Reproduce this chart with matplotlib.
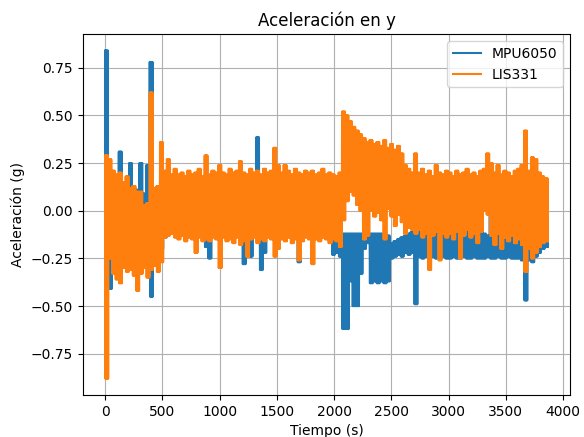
import numpy as np
import matplotlib
matplotlib.use("Agg")
import matplotlib.pyplot as plt

# Sample bins (s): each bin holds the upper and lower excursion of the signal
bin_start = np.arange(129) * 30
bin_width = 30
swings_per_bin = 5

# LIS331 (orange)
lis_hi = [
    0.29, 0.27, 0.21, 0.19, 0.20, 0.15, 0.18, 0.12, 0.13, 0.10,
    0.10, 0.03, 0.04, 0.62, 0.12, 0.13, 0.36, 0.21, 0.27, 0.19,
    0.22, 0.19, 0.20, 0.18, 0.21, 0.19, 0.20, 0.22, 0.18, 0.29,
    0.19, 0.21, 0.20, 0.24, 0.20, 0.19, 0.22, 0.20, 0.21, 0.26,
    0.20, 0.19, 0.22, 0.20, 0.21, 0.19, 0.22, 0.20, 0.21, 0.33,
    0.24, 0.20, 0.24, 0.21, 0.19, 0.22, 0.20, 0.19, 0.21, 0.20,
    0.21, 0.19, 0.20, 0.22, 0.19, 0.20, 0.19, 0.18, 0.20, 0.52,
    0.50, 0.47, 0.44, 0.42, 0.40, 0.38, 0.36, 0.37, 0.35, 0.36,
    0.34, 0.37, 0.33, 0.35, 0.32, 0.34, 0.30, 0.24, 0.22, 0.20,
    0.30, 0.20, 0.22, 0.19, 0.21, 0.18, 0.24, 0.20, 0.19, 0.21,
    0.20, 0.18, 0.21, 0.19, 0.20, 0.22, 0.19, 0.20, 0.18, 0.21,
    0.22, 0.30, 0.25, 0.20, 0.24, 0.19, 0.21, 0.20, 0.18, 0.21,
    0.22, 0.24, 0.42, 0.21, 0.28, 0.27, 0.20, 0.18, 0.17,
]
lis_lo = [
    -0.88, -0.25, -0.33, -0.36, -0.38, -0.30, -0.32, -0.31, -0.34, -0.42,
    -0.33, -0.30, -0.35, -0.31, -0.29, -0.32, -0.27, -0.14, -0.13, -0.12,
    -0.14, -0.15, -0.13, -0.16, -0.14, -0.15, -0.22, -0.14, -0.16, -0.15,
    -0.16, -0.14, -0.15, -0.30, -0.14, -0.16, -0.15, -0.17, -0.14, -0.18,
    -0.16, -0.24, -0.15, -0.14, -0.17, -0.15, -0.16, -0.14, -0.15, -0.24,
    -0.20, -0.15, -0.16, -0.14, -0.17, -0.15, -0.26, -0.16, -0.14, -0.15,
    -0.28, -0.15, -0.16, -0.14, -0.15, -0.17, -0.15, -0.16, -0.19, -0.05,
    0.05, 0.10, 0.08, 0.03, 0.00, -0.15, -0.13, 0.00, -0.03, -0.01,
    -0.05, -0.15, 0.01, -0.03, -0.08, -0.02, -0.06, -0.12, -0.09, -0.10,
    -0.12, -0.10, -0.14, -0.12, -0.31, -0.13, -0.11, -0.26, -0.12, -0.14,
    -0.12, -0.15, -0.11, -0.25, -0.13, -0.10, -0.14, -0.12, -0.17, -0.11,
    0.00, -0.02, -0.13, -0.18, -0.12, -0.20, -0.14, -0.16, -0.13, -0.17,
    -0.15, -0.18, -0.32, -0.20, -0.25, -0.22, -0.19, -0.17, -0.16,
]

# MPU6050 (blue)
mpu_hi = [
    0.84, 0.20, 0.15, 0.14, 0.31, 0.12, 0.14, 0.25, 0.12, 0.11,
    0.25, 0.09, 0.24, 0.78, 0.08, 0.10, 0.12, 0.12, 0.13, 0.12,
    0.13, 0.12, 0.14, 0.13, 0.12, 0.13, 0.14, 0.12, 0.13, 0.14,
    0.13, 0.12, 0.14, 0.13, 0.12, 0.13, 0.14, 0.12, 0.13, 0.14,
    0.13, 0.12, 0.14, 0.13, 0.385, 0.13, 0.12, 0.14, 0.13, 0.12,
    0.13, 0.12, 0.14, 0.13, 0.12, 0.13, 0.12, 0.11, 0.13, 0.12,
    0.13, 0.12, 0.11, 0.13, 0.12, 0.11, 0.12, 0.11, 0.10, -0.12,
    -0.12, -0.12, -0.12, -0.12, -0.12, -0.14, -0.13, -0.12, -0.12, -0.12,
    -0.12, -0.12, -0.13, -0.17, -0.16, -0.15, -0.14, -0.13, -0.12, -0.11,
    0.05, 0.10, 0.12, 0.08, 0.10, 0.12, 0.09, 0.11, 0.10, 0.12,
    0.10, 0.12, 0.20, 0.10, 0.11, 0.09, 0.12, 0.10, 0.11, 0.10,
    -0.12, -0.13, 0.10, 0.12, 0.09, 0.11, 0.10, 0.12, 0.10, 0.11,
    0.12, 0.10, 0.24, 0.11, 0.10, 0.12, 0.11, 0.10, 0.09,
]
mpu_lo = [
    -0.20, -0.41, -0.22, -0.24, -0.25, -0.22, -0.24, -0.23, -0.24, -0.25,
    -0.24, -0.22, -0.24, -0.45, -0.22, -0.21, -0.20, -0.14, -0.11, -0.10,
    -0.11, -0.10, -0.12, -0.11, -0.10, -0.12, -0.11, -0.10, -0.12, -0.19,
    -0.25, -0.11, -0.10, -0.12, -0.11, -0.10, -0.12, -0.11, -0.10, -0.11,
    -0.28, -0.11, -0.24, -0.12, -0.11, -0.31, -0.22, -0.10, -0.12, -0.11,
    -0.11, -0.12, -0.10, -0.11, -0.12, -0.10, -0.27, -0.11, -0.12, -0.10,
    -0.11, -0.12, -0.10, -0.11, -0.12, -0.10, -0.23, -0.22, -0.24, -0.62,
    -0.62, -0.37, -0.50, -0.50, -0.33, -0.20, -0.17, -0.38, -0.37, -0.38,
    -0.37, -0.38, -0.37, -0.25, -0.24, -0.23, -0.24, -0.22, -0.23, -0.22,
    -0.49, -0.24, -0.25, -0.24, -0.25, -0.24, -0.25, -0.25, -0.24, -0.25,
    -0.25, -0.24, -0.25, -0.25, -0.24, -0.25, -0.25, -0.24, -0.25, -0.25,
    -0.25, -0.24, -0.25, -0.25, -0.24, -0.25, -0.25, -0.24, -0.25, -0.25,
    -0.25, -0.26, -0.47, -0.26, -0.27, -0.24, -0.22, -0.20, -0.19,
]

series_labels = ["MPU6050", "LIS331"]


def swing_trace(hi, lo):
    # each bin is drawn as a rapid oscillation between its recorded extremes
    n = 2 * swings_per_bin
    offsets = np.arange(n) * bin_width / n
    x = (bin_start[:, None] + offsets[None, :]).ravel()
    pair = np.column_stack([np.asarray(hi), np.asarray(lo)])
    y = np.tile(pair, (1, swings_per_bin)).ravel()
    return x, y


fig = plt.figure(figsize=(5.84, 4.37), dpi=100)
ax = fig.add_axes([0.142, 0.096, 0.834, 0.826])

xm, ym = swing_trace(mpu_hi, mpu_lo)
xl, yl = swing_trace(lis_hi, lis_lo)
ax.plot(xm, ym, color="C0", lw=1.5, label=series_labels[0])
ax.plot(xl, yl, color="C1", lw=1.5, label=series_labels[1])

ax.set_title("Aceleración en y")
ax.set_xlabel("Tiempo (s)")
ax.set_ylabel("Aceleración (g)")
ax.set_xticks([0, 500, 1000, 1500, 2000, 2500, 3000, 3500, 4000])
ax.set_yticks([-0.75, -0.5, -0.25, 0.0, 0.25, 0.5, 0.75])
ax.grid(True)
ax.legend(loc="upper right")

fig.savefig("out.png", dpi=100)
